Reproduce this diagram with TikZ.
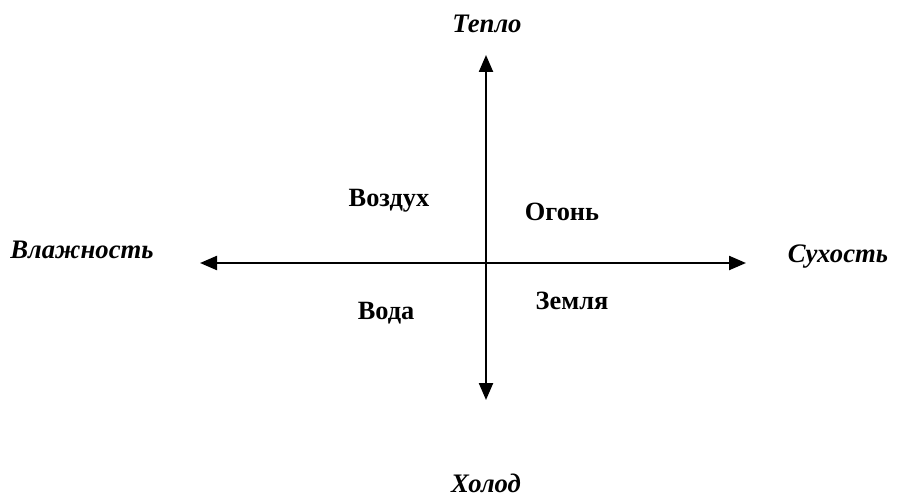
\documentclass[tikz,border=0pt]{standalone}
\usepackage{fontspec}
\setmainfont{Liberation Serif}
\usetikzlibrary{arrows.meta}

\begin{document}
\begin{tikzpicture}[x=0.02cm,y=-0.02cm,>={Triangle[length=0.34cm,width=0.28cm]},
  axis/.style={<->,line width=0.045cm},
  pole/.style={font=\fontsize{15.2}{18}\selectfont\bfseries\itshape,inner sep=0pt},
  element/.style={font=\fontsize{15}{18}\selectfont\bfseries,inner sep=0pt}]
  \useasboundingbox (0,0) rectangle (898,497);
  % axes
  \coordinate (top) at (486,55);
  \coordinate (bottom) at (486,400);
  \coordinate (left) at (200,263);
  \coordinate (right) at (746,263);
  \draw[axis] (bottom) -- (top);
  \draw[axis] (left) -- (right);
  % qualities
  \node[pole] (warm) at (487,24) {Тепло};
  \node[pole] (cold) at (486,483) {Холод};
  \node[pole] (wet) at (82,250) {Влажность};
  \node[pole] (dry) at (838,257) {Сухость};
  % elements
  \node[element] (air) at (389,201) {Воздух};
  \node[element] (fire) at (562,212) {Огонь};
  \node[element] (water) at (386,313) {Вода};
  \node[element] (earth) at (572,301) {Земля};
\end{tikzpicture}
\end{document}
